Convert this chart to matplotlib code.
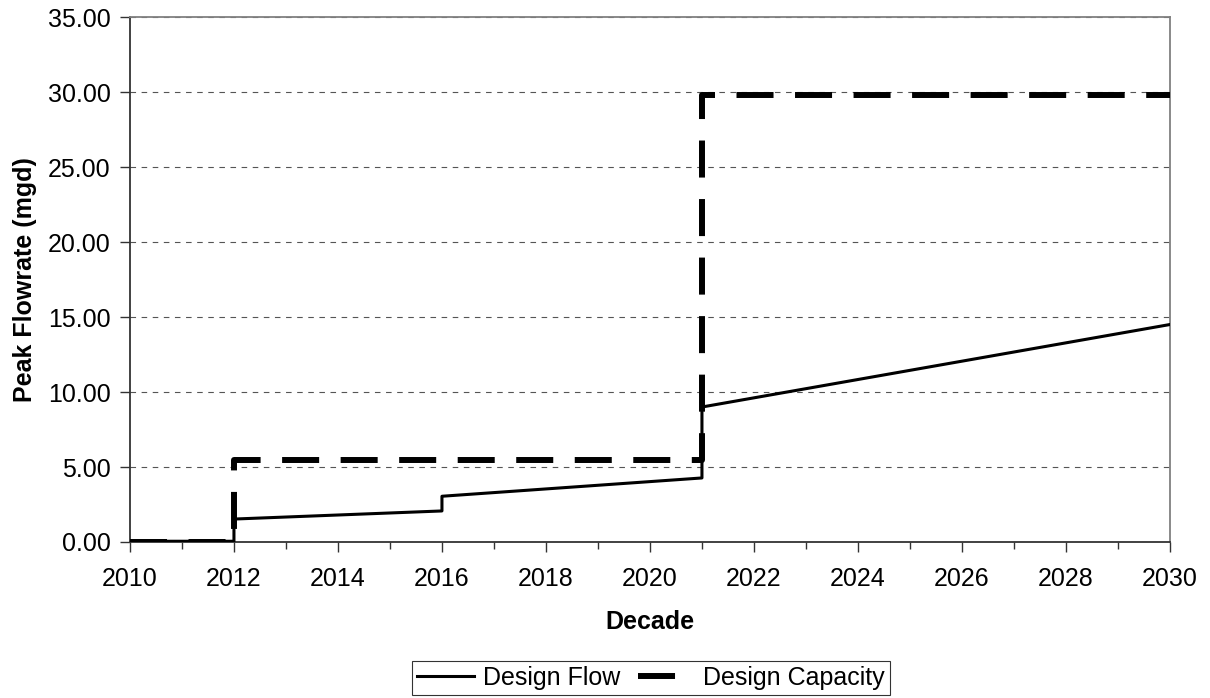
import matplotlib
matplotlib.use('Agg')
import matplotlib.pyplot as plt
from matplotlib.ticker import MultipleLocator

plt.rcParams['font.family'] = ['Liberation Sans', 'DejaVu Sans']

# data
flow_years = [2010, 2012, 2012, 2016, 2016, 2021, 2021, 2030]
flow_mgd = [0.05, 0.05, 1.53, 2.07, 3.05, 4.27, 9.0, 14.5]

cap_years = [2010, 2012, 2012, 2021, 2021, 2030]
cap_mgd = [0.0, 0.0, 5.5, 5.5, 29.8, 29.8]

fig = plt.figure(figsize=(12.1, 6.98), dpi=100)
ax = fig.add_axes([0.1074, 0.2235, 0.8595, 0.7521])

ax.plot(flow_years, flow_mgd, color='black', lw=2.2, label='Design Flow', zorder=3)
ax.plot(cap_years, cap_mgd, color='black', lw=4.3, linestyle=(0, (6.2, 3.6)),
        label='Design Capacity', zorder=4)

ax.set_xlim(2010, 2030)
ax.set_ylim(0, 35)
ax.xaxis.set_major_locator(MultipleLocator(2))
ax.xaxis.set_minor_locator(MultipleLocator(1))
ax.yaxis.set_major_locator(MultipleLocator(5))
ax.yaxis.set_major_formatter(lambda v, p: f'{v:.2f}')
ax.grid(axis='y', color='#555555', linestyle=(0, (5, 5)), lw=0.8)
ax.set_axisbelow(True)

for s in ax.spines.values():
    s.set_color('#808080')
    s.set_linewidth(1.3)
ax.spines['left'].set_color('#333333')
ax.spines['bottom'].set_color('#333333')

ax.tick_params(axis='both', which='major', labelsize=18, length=7, width=1, color='#333333')
ax.tick_params(axis='x', which='major', pad=11)
ax.tick_params(axis='y', which='major', pad=7)
ax.tick_params(axis='x', which='minor', length=5, width=1, color='#333333')

ax.set_xlabel('Decade', fontsize=18, fontweight='bold')
ax.set_ylabel('Peak Flowrate (mgd)', fontsize=18, fontweight='bold')
ax.xaxis.set_label_coords(0.5, -0.13)
ax.yaxis.set_label_coords(-0.0894, 0.5)

leg = fig.legend(loc='center', bbox_to_anchor=(0.538, 0.0287), ncol=2, fontsize=18,
                 frameon=True, fancybox=False, edgecolor='black', handlelength=2.28,
                 borderpad=0.2, borderaxespad=0, columnspacing=0.7, handletextpad=0.35)
leg.get_frame().set_linewidth(0.8)

fig.savefig('out.png', dpi=100)
